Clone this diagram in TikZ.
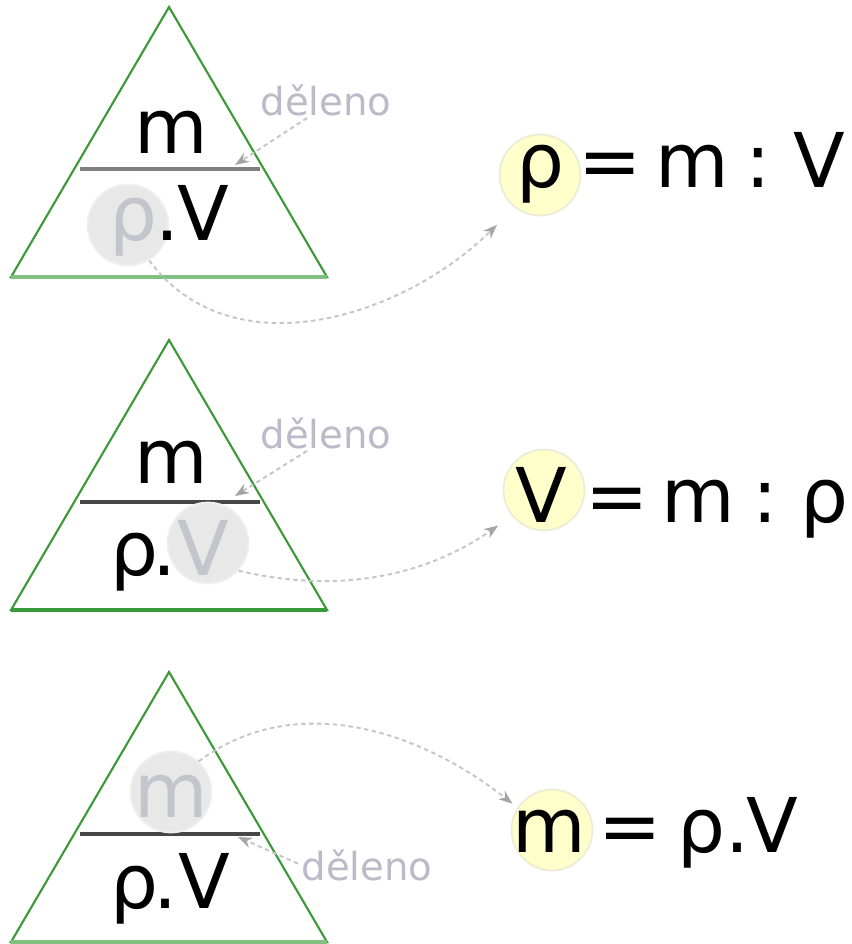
\documentclass[tikz,border=0pt]{standalone}
\usepackage{fontspec}
\setsansfont{DejaVu Sans}
\usetikzlibrary{arrows.meta}

\definecolor{rhoGreen}{HTML}{3A9A3A}
\definecolor{rhoBase}{HTML}{80C080}
\definecolor{rhoRuleA}{HTML}{808080}
\definecolor{rhoRuleB}{HTML}{474747}
\definecolor{rhoFaint}{HTML}{C4C4CC}
\definecolor{rhoLabel}{HTML}{BFB8C8}
\definecolor{rhoDash}{HTML}{C6C6C6}
\definecolor{rhoTip}{HTML}{A4A4A4}
\definecolor{rhoYellow}{HTML}{FFFFCC}
\definecolor{rhoRing}{HTML}{ECECD6}
\definecolor{rhoGrey}{HTML}{E8E8E8}
\definecolor{rhoGreyRing}{HTML}{EFEFEF}

\begin{document}
\begin{tikzpicture}[x=0.02cm,y=-0.02cm,font=\sffamily,
  sym/.style={anchor=base,inner sep=0pt,font=\sffamily\fontsize{43}{52}\selectfont},
  deleno/.style={inner sep=0pt,text=rhoLabel,font=\sffamily\fontsize{22}{26}\selectfont},
  hilite/.style={circle,inner sep=0pt,minimum size=1.62cm,line width=1pt},
  side/.style={draw=rhoGreen,line width=1.2pt},
  hint/.style={draw=rhoDash,line width=1.1pt,dash pattern=on 2.5pt off 2pt,
    -{Stealth[length=8pt,width=6pt,color=rhoTip]}}]
  \path[fill=white] (0,0) rectangle (852,944);
  \useasboundingbox (0,0) rectangle (852,944);

  \foreach \n/\ty/\bc/\rc in {1/7/rhoBase/rhoRuleA,2/340/rhoGreen/rhoRuleB,3/672/rhoBase/rhoRuleB}{
    \path[side] (169,\ty) coordinate (tri\n-top) -- (11,\ty+270) coordinate (tri\n-l)
      -- (327,\ty+270) coordinate (tri\n-r) -- cycle;
    \path[draw=\bc,line width=2.2pt] (tri\n-l) -- (tri\n-r);
    \path[draw=\rc,line width=2pt] (80,\ty+162) coordinate (tri\n-dl) -- (260,\ty+162) coordinate (tri\n-dr);
  }

  \node[hilite,fill=rhoGrey,draw=rhoGreyRing] (t1c) at (128,225) {};
  \node[hilite,fill=rhoGrey,draw=rhoGreyRing] (t2c) at (208,543) {};
  \node[hilite,fill=rhoGrey,draw=rhoGreyRing] (t3c) at (171,792) {};
  \node[hilite,fill=rhoYellow,draw=rhoRing] (f1c) at (540,175) {};
  \node[hilite,fill=rhoYellow,draw=rhoRing] (f2c) at (544,490) {};
  \node[hilite,fill=rhoYellow,draw=rhoRing] (f3c) at (552,830) {};

  \node[deleno] (dl1) at (326,100) {děleno};
  \node[deleno] (dl2) at (326,433) {děleno};
  \node[deleno] (dl3) at (367,865) {děleno};
  \coordinate (tip1) at (235,165);
  \coordinate (tip2) at (235,496);
  \coordinate (tip3) at (238,837);
  \draw[hint,shorten <=2pt] (dl1.-135) -- (tip1);
  \draw[hint,shorten <=2pt] (dl2.-135) -- (tip2);
  \draw[hint,shorten <=2pt] (dl3.west) -- (tip3);

  \draw[hint,shorten >=14pt] (t1c.-59) .. controls (230,370) and (400,320) .. (f1c.-128);
  \draw[hint,shorten >=9.5pt] (t2c.-42) .. controls (337,594) and (424,577) .. (f2c.-141);
  \draw[hint,shorten >=3.5pt] (t3c.48) .. controls (298,688) and (423,733) .. (f3c.147);

  \foreach \x/\y/\c/\t in {
    171/153/black/m, 133/240/rhoFaint/ρ, 168/240/black/., 203/240/black/V,
    171/483/black/m, 134/575/black/ρ, 165/575/black/., 203/575/rhoFaint/V,
    171/817/rhoFaint/m, 134/908/black/ρ, 166/908/black/., 204/908/black/V,
    540/187/black/ρ, 610/187/black/=, 692/187/black/m, 758/187/black/:, 819/187/black/V,
    541/522/black/V, 617/522/black/=, 698/522/black/m, 765/522/black/:, 824/522/black/ρ,
    549/852/black/m, 630/852/black/=, 701/852/black/ρ, 738/852/black/., 772/852/black/V
  }{
    \node[sym,text=\c] (s\x-\y) at (\x,\y) {\t};
  }
\end{tikzpicture}
\end{document}
